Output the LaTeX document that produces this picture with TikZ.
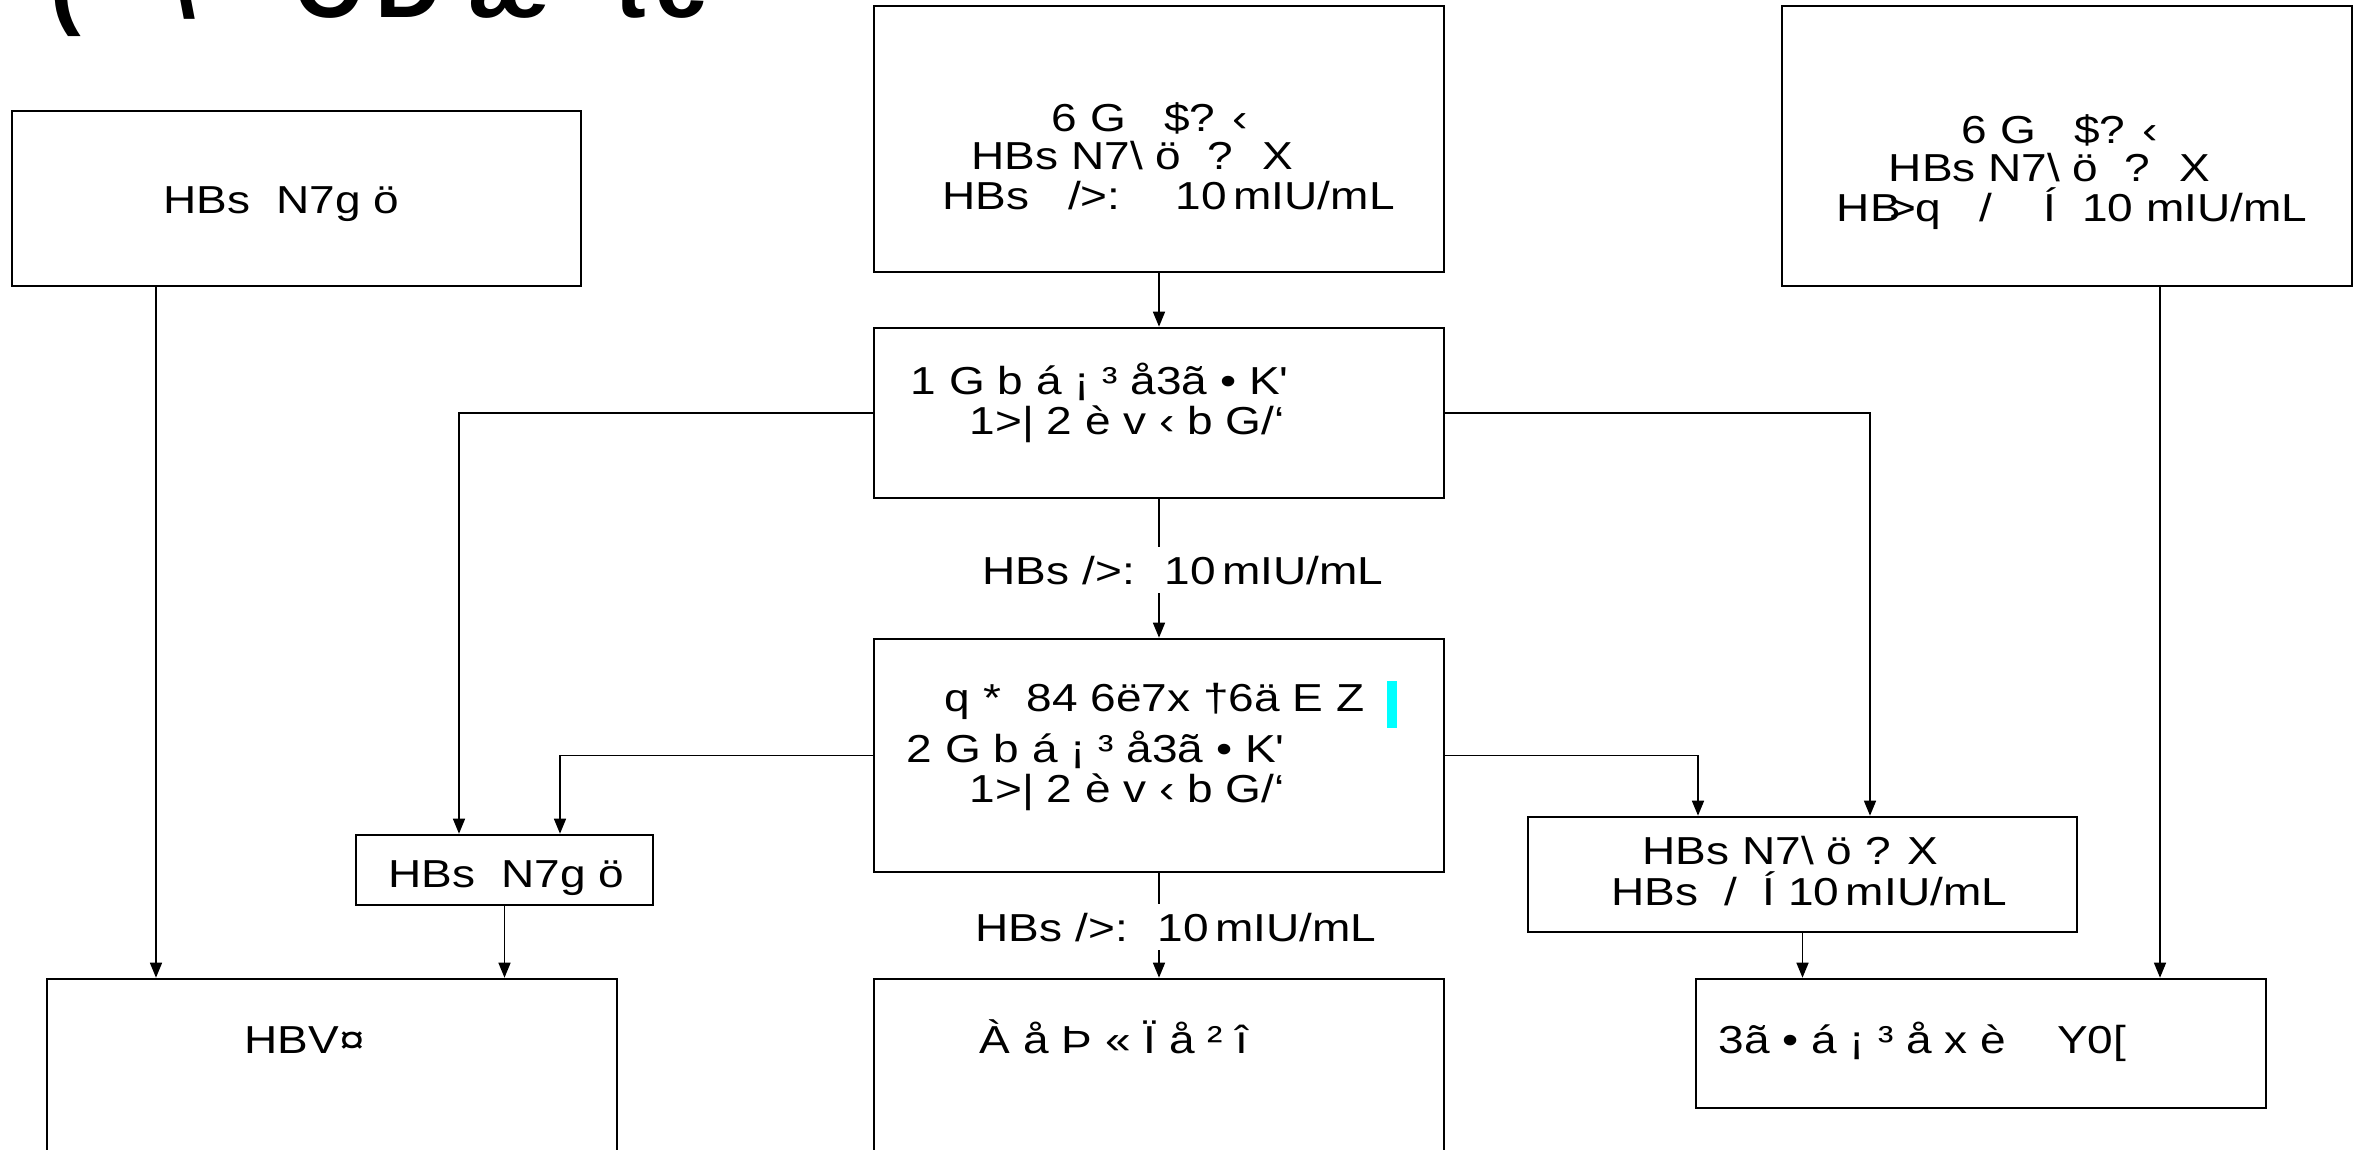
\documentclass[tikz,border=0pt]{standalone}
\usepackage{fontspec}
\setmainfont{Liberation Sans}[FakeStretch=1.18]
\newfontfamily\titlefont{Liberation Sans}
\usetikzlibrary{arrows.meta}

\definecolor{markcyan}{RGB}{0,255,255}

\tikzset{every picture/.style={line width=1.5pt}}
\tikzset{
  flowbox/.style={draw, rectangle, line width=2.6pt, inner sep=0pt},
  boxtext/.style={anchor=base west, inner sep=0pt, font=\fontsize{39}{43}\selectfont},
  linktext/.style={boxtext, fill=white, inner ysep=8pt},
  arr/.style={-{Triangle[length=15pt,width=12pt]}},
}

\begin{document}
\begin{tikzpicture}[x=1pt,y=1pt,yscale=-1,xscale=1]
\useasboundingbox (0,0) rectangle (2358,1150);

% Title (cut off at the top)
\node [anchor=base west, inner sep=0pt, font=\titlefont\fontsize{92}{96}\bfseries\selectfont] (title) at (50,18)
  {(\hspace{89pt}\textbackslash\hspace{99pt}C\hspace{14pt}D\hspace{27pt}æ\hspace{65pt}t\hspace{9pt}c};

%Shape: Rectangle boxes
\node [flowbox, minimum width=569pt, minimum height=175pt] (boxA) at (296.5,198.5) {};
\node [flowbox, minimum width=570pt, minimum height=266pt] (boxB) at (1159,139) {};
\node [flowbox, minimum width=570pt, minimum height=280pt] (boxC) at (2067,146) {};
\node [flowbox, minimum width=570pt, minimum height=170pt] (boxD) at (1159,413) {};
\node [flowbox, minimum width=570pt, minimum height=233pt] (boxE) at (1159,755.5) {};
\node [flowbox, minimum width=297pt, minimum height=70pt] (boxF) at (504.5,870) {};
\node [flowbox, minimum width=549pt, minimum height=115pt] (boxG) at (1802.5,874.5) {};
\node [flowbox, minimum width=570pt, minimum height=200pt] (boxH) at (332,1079) {};
\node [flowbox, minimum width=570pt, minimum height=200pt] (boxI) at (1159,1079) {};
\node [flowbox, minimum width=570pt, minimum height=129pt] (boxJ) at (1981,1043.5) {};

%Shape: marker bar
\fill [markcyan] (1387,681) rectangle (1397,728);

% Text Node
\node [boxtext] (tA) at (163,214) {HBs~ N7g ö};
% Text Node
\node [boxtext] (tB1) at (1051,132) {6 G~~ \$? ‹};
\node [boxtext] (tB2) at (971,170) {HBs N7\textbackslash{} ö~ ?~ X};
\node [boxtext] (tB3) at (942,210) {HBs~~ />:~~~ 10\,mIU/mL};
% Text Node
\node [boxtext] (tC1) at (1961,144) {6 G~~ \$? ‹};
\node [boxtext] (tC2) at (1888,182) {HBs N7\textbackslash{} ö~ ?~ X};
\node [boxtext] (tC3) at (1836,222) {HB\kern-.3em>q~~ /~~~ Í~ 10 mIU/mL};
% Text Node
\node [boxtext] (tD1) at (910,394) {1 G b á ¡ ³ å3ã • K\textquotesingle};
\node [boxtext] (tD2) at (969,434) {1>| 2 è v ‹ b G/‘};
% Text Node
\node [boxtext] (tE1) at (944,711) {q *~ 84 6ë7x †6ä E Z};
\node [boxtext] (tE2) at (906,762) {2 G b á ¡ ³ å3ã • K\textquotesingle};
\node [boxtext] (tE3) at (969,802) {1>| 2 è v ‹ b G/‘};
% Text Node
\node [boxtext] (tF) at (388,887) {HBs~ N7g ö};
% Text Node
\node [boxtext] (tG1) at (1642,864) {HBs N7\textbackslash{} ö ? X};
\node [boxtext] (tG2) at (1611,905) {HBs~ /~ Í 10\,mIU/mL};
% Text Node
\node [boxtext] (tH) at (244,1053) {HBV¤};
\node [boxtext] (tI) at (979,1053) {À å Þ « Ï å ² î};
\node [boxtext] (tJ) at (1718,1053) {3ã • á ¡ ³ å x è~~~ Y0[};

% Link labels
\node [linktext] (lblA) at (982,584) {HBs />:~ 10\,mIU/mL};
\node [linktext] (lblB) at (975,941) {HBs />:~ 10\,mIU/mL};

% columns of the vertical links
\coordinate (colAH) at (156,0);
\coordinate (colDF) at (459,0);
\coordinate (colEF) at (560,0);
\coordinate (colEG) at (1698,0);
\coordinate (colDG) at (1870,0);
\coordinate (colCJ) at (2160,0);

%Straight Lines
\draw [arr] (boxA.south -| colAH) -- (boxH.north -| colAH);
\draw [arr] (boxB.south) -- (boxD.north);
\draw (boxD.south) -- (lblA.north -| boxD.south);
\draw [arr] (lblA.south -| boxD.south) -- (boxE.north);
\draw [arr] (boxD.west) -| (boxF.north -| colDF);
\draw [arr] (boxD.east) -| (boxG.north -| colDG);
\draw [arr] (boxE.west) -| (boxF.north -| colEF);
\draw [arr] (boxE.east) -| (boxG.north -| colEG);
\draw (boxE.south) -- (lblB.north -| boxE.south);
\draw [arr] (lblB.south -| boxE.south) -- (boxI.north);
\draw [arr] (boxF.south) -- (boxH.north -| boxF.south);
\draw [arr] (boxG.south) -- (boxJ.north -| boxG.south);
\draw [arr] (boxC.south -| colCJ) -- (boxJ.north -| colCJ);

\end{tikzpicture}
\end{document}
